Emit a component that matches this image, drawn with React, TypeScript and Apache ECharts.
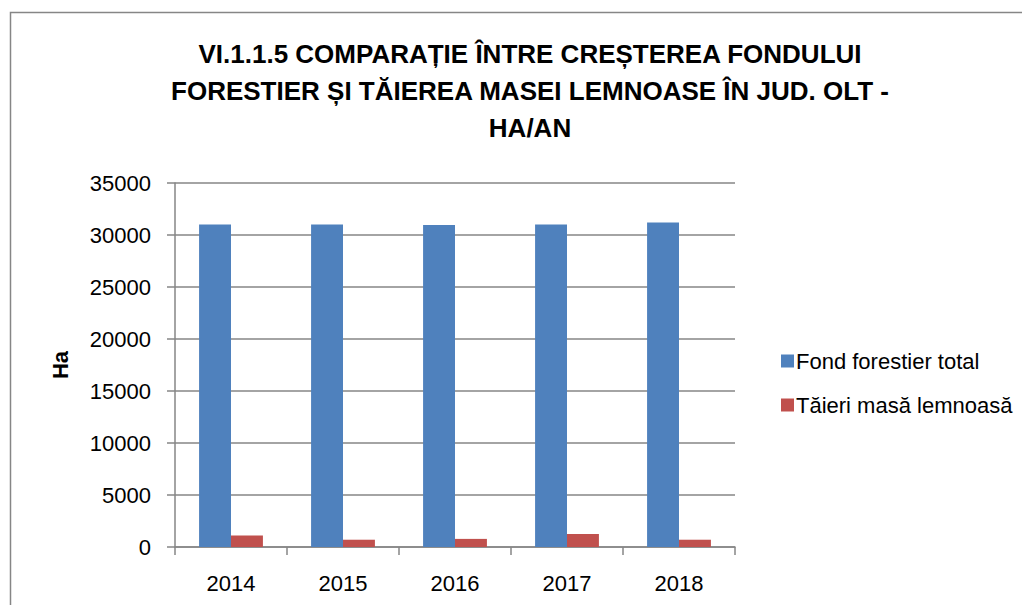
import React, { useEffect, useRef } from "react";
import * as echarts from "echarts";

const categories = ["2014", "2015", "2016", "2017", "2018"];
const fondForestier = [31000, 31000, 30950, 31000, 31200];
const taieri = [1100, 700, 780, 1250, 700];
const seriesNames = ["Fond forestier total", "Tăieri masă lemnoasă"];
const titleText = "VI.1.1.5 COMPARAȚIE ÎNTRE CREȘTEREA FONDULUI\nFORESTIER ȘI TĂIEREA MASEI LEMNOASE ÎN JUD. OLT -\nHA/AN";

const FONT = "'Liberation Sans', 'Noto Sans', sans-serif";

export default function App() {
  const ref = useRef<HTMLDivElement>(null);
  useEffect(() => {
    document.body.style.margin = "0";
    const chart = echarts.init(ref.current!, null, { renderer: "svg" });
    const gray = "#868686";
    chart.setOption({
      animation: false,
      backgroundColor: "#ffffff",
      textStyle: { fontFamily: FONT },
      title: {
        text: titleText,
        left: 525,
        top: 30,
        textAlign: "center",
        textStyle: {
          fontFamily: FONT,
          fontSize: 26,
          fontWeight: "bold",
          color: "#000",
          lineHeight: 37,
        },
      },
      graphic: [
        {
          type: "rect",
          shape: { x: 10.5, y: 12.5, width: 1200, height: 800 },
          style: { fill: "none", stroke: gray, lineWidth: 1.5 },
          silent: true,
        },
      ],
      legend: {
        orient: "vertical",
        left: 776,
        top: 345,
        itemWidth: 13,
        itemHeight: 13,
        itemGap: 22,
        icon: "rect",
        textStyle: { fontFamily: FONT, fontSize: 22, color: "#000", padding: [0, 0, 0, -3] },
        data: seriesNames,
      },
      grid: { left: 175, right: 287, top: 183, bottom: 58, containLabel: false },
      xAxis: {
        type: "category",
        data: categories,
        axisLine: { lineStyle: { color: gray, width: 1.5 } },
        axisTick: { show: true, length: 8, alignWithLabel: false, lineStyle: { color: gray, width: 1.5 } },
        axisLabel: { fontFamily: FONT, fontSize: 22, color: "#000", margin: 25 },
      },
      yAxis: {
        type: "value",
        min: 0,
        max: 35000,
        interval: 5000,
        name: "Ha",
        nameLocation: "middle",
        nameGap: 104,
        nameRotate: 90,
        nameTextStyle: { fontFamily: FONT, fontSize: 22, fontWeight: "bold", color: "#000" },
        axisLine: { show: true, lineStyle: { color: gray, width: 1.5 } },
        axisTick: { show: true, length: 8, lineStyle: { color: gray, width: 1.5 } },
        axisLabel: {
          fontFamily: FONT,
          fontSize: 22,
          color: "#000",
          margin: 24,
          formatter: (v: number) => String(v),
        },
        splitLine: { show: true, lineStyle: { color: gray, width: 1.5 } },
      },
      series: [
        {
          name: seriesNames[0],
          type: "bar",
          data: fondForestier,
          itemStyle: { color: "#4F81BD" },
          barGap: "0%",
          barCategoryGap: "43%",
        },
        {
          name: seriesNames[1],
          type: "bar",
          data: taieri,
          itemStyle: { color: "#C0504D" },
          barGap: "0%",
          barCategoryGap: "43%",
        },
      ],
    });
    return () => chart.dispose();
  }, []);
  return <div ref={ref} style={{ width: 1022, height: 605 }} />;
}
